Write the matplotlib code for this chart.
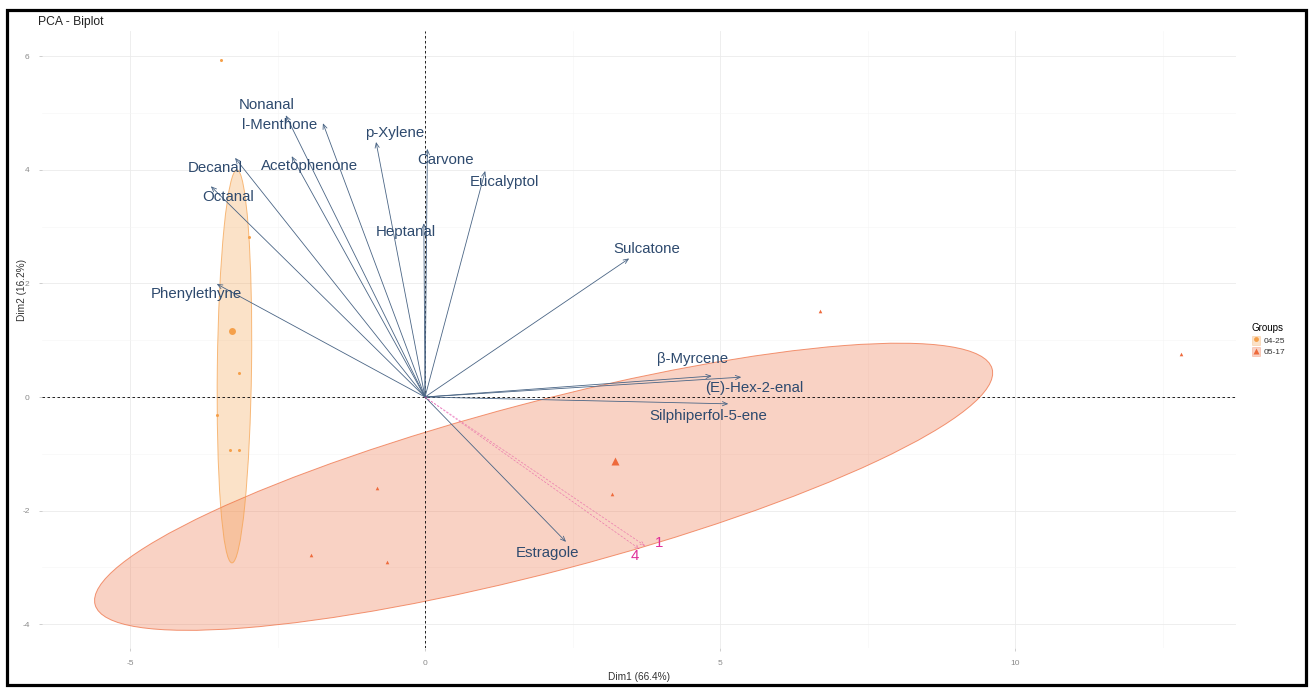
import numpy as np
import matplotlib
matplotlib.use("Agg")
import matplotlib.pyplot as plt
from matplotlib.patches import Ellipse, Patch, Rectangle
from matplotlib.lines import Line2D
from matplotlib.legend_handler import HandlerTuple

plt.rcParams['font.family'] = ['Liberation Sans', 'DejaVu Sans']
plt.rcParams['axes.unicode_minus'] = False

# ------------------------------------- data -------------------------------------
groups = ['04-25', '05-17']

g1_x = [-3.45, -2.99, -3.16, -3.53, -3.31, -3.16]
g1_y = [5.93, 2.82, 0.42, -0.32, -0.93, -0.93]
g2_x = [6.69, 12.82, 3.17, -0.81, -1.94, -0.65]
g2_y = [1.51, 0.76, -1.71, -1.60, -2.78, -2.90]

# ellipses: centre x, centre y, semi-major, semi-minor, angle (deg)
ell_g1 = [-3.23, 0.54, 3.46, 0.29, 89.3]
ell_g2 = [2.01, -1.58, 7.88, 1.49, 15.3]

var_names = ['Nonanal', 'l-Menthone', 'Decanal', 'Acetophenone', 'Octanal', 'p-Xylene',
             'Carvone', 'Eucalyptol', 'Heptanal', 'Phenylethyne', 'Sulcatone',
             'β-Myrcene', '(E)-Hex-2-enal', 'Silphiperfol-5-ene', 'Estragole']
var_x = [-2.36, -1.73, -3.22, -2.26, -3.63, -0.83, 0.04, 1.02, -0.02, -3.53, 3.46,
         4.86, 5.36, 5.14, 2.39]
var_y = [4.96, 4.82, 4.21, 4.24, 3.71, 4.49, 4.37, 3.98, 3.06, 1.99, 2.44,
         0.37, 0.35, -0.12, -2.55]

sup_names = ['1', '4']
sup_x = [3.73, 3.64]
sup_y = [-2.62, -2.68]

# label placement (repelled in the original)
var_lab_x = [-2.69, -2.46, -3.56, -1.95, -3.33, -0.51, 0.35, 1.34, -0.32, -3.88, 3.76,
             4.54, 5.58, 4.80, 2.07]
var_lab_y = [5.14, 4.79, 4.04, 4.07, 3.53, 4.65, 4.17, 3.79, 2.90, 1.81, 2.60,
             0.67, 0.16, -0.33, -2.75]
sup_lab_x = [3.97, 3.56]
sup_lab_y = [-2.57, -2.80]

# ------------------------------------------- styling -------------------------------------------
c1, c2 = '#F5A04A', '#EE6A3C'
var_col = '#2E4A6E'
arrow_col = '#4A6585'
sup_col = '#E0309A'

fig = plt.figure(figsize=(13.12, 6.88), dpi=100)
W, H = 1312, 688
left, right, top, bottom = 41.5, 1236.3, 31.2, 648.1
ax = fig.add_axes([left / W, 1 - bottom / H, (right - left) / W, (bottom - top) / H])
ax.set_xlim(-6.5, 13.75)
ax.set_ylim(-4.42, 6.44)

# grid (theme_minimal look)
ax.set_xticks([-5, 0, 5, 10])
ax.set_yticks([-4, -2, 0, 2, 4, 6])
ax.set_xticks([-2.5, 2.5, 7.5, 12.5], minor=True)
ax.set_yticks([-3, -1, 1, 3, 5], minor=True)
ax.grid(which='major', color='#EBEBEB', lw=0.6)
ax.grid(which='minor', color='#F5F5F5', lw=0.4)
ax.set_axisbelow(True)
for s in ax.spines.values():
    s.set_visible(False)
ax.tick_params(which='major', length=2.5, width=0.5, color='#BBBBBB', labelsize=6,
               labelcolor='#8A8A8A', pad=6)
ax.tick_params(which='minor', length=0)

# ellipses
for e, c in [(ell_g2, c2), (ell_g1, c1)]:
    ax.add_patch(Ellipse((e[0], e[1]), 2 * e[2], 2 * e[3], angle=e[4],
                         facecolor=c, alpha=0.3, edgecolor='none', zorder=1))
    ax.add_patch(Ellipse((e[0], e[1]), 2 * e[2], 2 * e[3], angle=e[4],
                         facecolor='none', edgecolor=c, alpha=0.7, lw=0.7, zorder=1.1))

# zero lines
ax.axhline(0, color='black', lw=0.6, ls=(0, (3, 3)), zorder=2)
ax.axvline(0, color='black', lw=0.6, ls=(0, (3, 3)), zorder=2)

# individuals + group means
ax.plot(g1_x, g1_y, 'o', color=c1, ms=2.2, mec='none', zorder=3)
ax.plot(g2_x, g2_y, '^', color=c2, ms=2.6, mec='none', zorder=3)
ax.plot(np.mean(g1_x), np.mean(g1_y), 'o', color=c1, ms=5, mec='none', zorder=3)
ax.plot(np.mean(g2_x), np.mean(g2_y), '^', color=c2, ms=6, mec='none', zorder=3)

# variable arrows
for name, x, y, lx, ly in zip(var_names, var_x, var_y, var_lab_x, var_lab_y):
    ax.annotate('', xy=(x, y), xytext=(0, 0),
                arrowprops=dict(arrowstyle='->,head_length=0.35,head_width=0.15',
                                color=arrow_col, lw=0.6, shrinkA=0, shrinkB=0), zorder=4)
    ax.text(lx, ly, name, color=var_col, fontsize=10.8, ha='center', va='center', zorder=5)

# supplementary variables
for name, x, y, lx, ly in zip(sup_names, sup_x, sup_y, sup_lab_x, sup_lab_y):
    ax.annotate('', xy=(x, y), xytext=(0, 0),
                arrowprops=dict(arrowstyle='->,head_length=0.3,head_width=0.12',
                                color=sup_col, lw=0.45, ls=(0, (3, 3)),
                                shrinkA=0, shrinkB=0, alpha=0.6), zorder=4)
    ax.text(lx, ly, name, color=sup_col, fontsize=10.8, ha='center', va='center', zorder=5)

ax.set_xlabel('Dim1 (66.4%)', fontsize=7.3, color='#333333', labelpad=4)
ax.set_ylabel('Dim2 (16.2%)', fontsize=7.3, color='#333333')
ax.yaxis.set_label_coords(-0.012, 0.58)

fig.text(38 / W, 1 - 22 / H, 'PCA - Biplot', fontsize=8.7, va='center', ha='left', color='#222222')

# legend
handles = [(Patch(facecolor=c1, alpha=0.3, edgecolor=c1, lw=0.6),
            Line2D([], [], marker='o', color=c1, ls='none', ms=3.5, mec='none')),
           (Patch(facecolor=c2, alpha=0.3, edgecolor=c2, lw=0.6),
            Line2D([], [], marker='^', color=c2, ls='none', ms=4, mec='none'))]
leg = fig.legend(handles, groups, handler_map={tuple: HandlerTuple(ndivide=1)},
                 loc='upper left', bbox_to_anchor=(1244 / W, 1 - 316 / H), frameon=False,
                 fontsize=6, title='Groups', title_fontsize=7, handlelength=1.0,
                 handleheight=1.3, labelspacing=0.25, handletextpad=0.5, alignment='left')
for t in leg.get_texts():
    t.set_color('#333333')

# outer black frame of the screenshot
fig.add_artist(Rectangle((6.5 / W, 3 / H), (1305.5 - 6.5) / W, (685 - 10) / H,
                         transform=fig.transFigure, fill=False, ec='black', lw=2.3))

fig.savefig('out.png', dpi=100, facecolor='white')
